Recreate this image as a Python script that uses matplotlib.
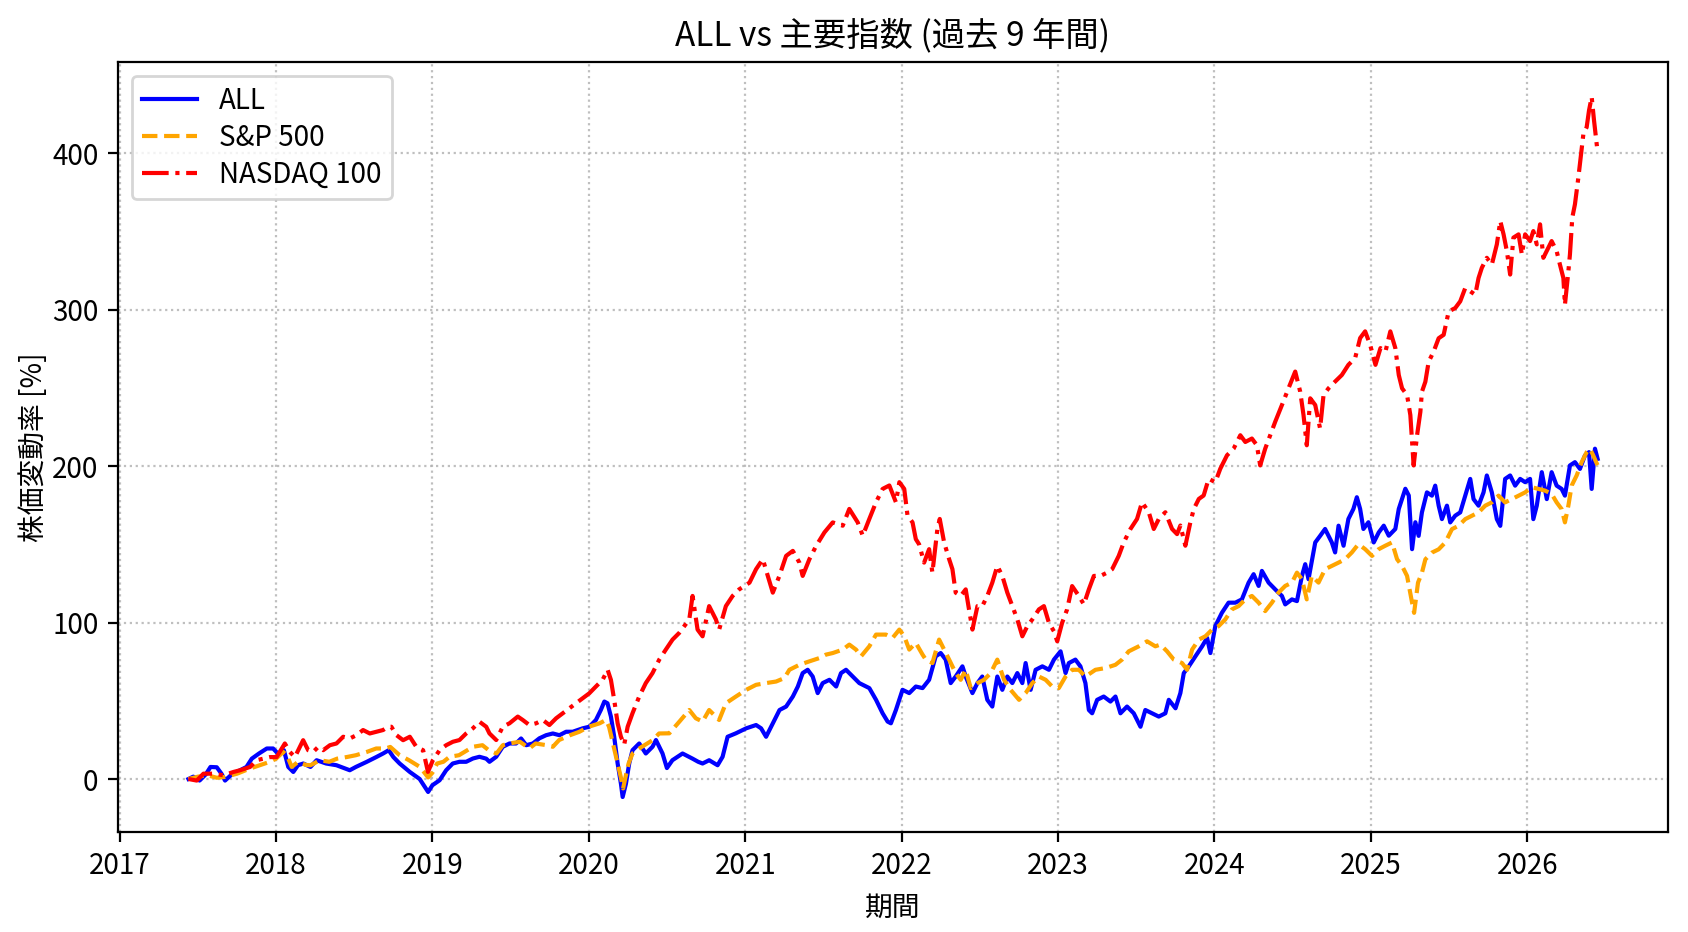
import matplotlib
matplotlib.use("Agg")
import matplotlib.pyplot as plt
import matplotlib.dates as mdates
import pandas as pd

plt.rcParams['font.family'] = ['Noto Sans CJK JP', 'DejaVu Sans']

# ---- data (decimal year, % change) ----
all_year = [2017.439, 2017.47, 2017.51, 2017.55, 2017.58, 2017.62, 2017.65, 2017.673, 2017.71, 2017.748,
            2017.81, 2017.844, 2017.89, 2017.94, 2017.98, 2018.014, 2018.05, 2018.078, 2018.11, 2018.14,
            2018.174, 2018.22, 2018.259, 2018.32, 2018.386, 2018.471, 2018.51, 2018.578, 2018.64, 2018.684,
            2018.72, 2018.75, 2018.79, 2018.855, 2018.918, 2018.972, 2019.0, 2019.046, 2019.088, 2019.13,
            2019.173, 2019.216, 2019.259, 2019.301, 2019.344, 2019.365, 2019.408, 2019.45, 2019.493, 2019.535,
            2019.567, 2019.6, 2019.642, 2019.684, 2019.727, 2019.77, 2019.812, 2019.855, 2019.897, 2019.961,
            2020.004, 2020.046, 2020.078, 2020.1, 2020.12, 2020.142, 2020.163, 2020.185, 2020.206, 2020.217,
            2020.238, 2020.259, 2020.28, 2020.323, 2020.365, 2020.408, 2020.43, 2020.472, 2020.5, 2020.535,
            2020.6, 2020.664, 2020.7, 2020.728, 2020.77, 2020.824, 2020.856, 2020.888, 2020.941, 2021.005,
            2021.068, 2021.1, 2021.132, 2021.175, 2021.218, 2021.26, 2021.303, 2021.335, 2021.366, 2021.398,
            2021.43, 2021.462, 2021.494, 2021.537, 2021.58, 2021.611, 2021.643, 2021.686, 2021.728, 2021.792,
            2021.835, 2021.877, 2021.909, 2021.93, 2021.962, 2022.005, 2022.048, 2022.09, 2022.133, 2022.175,
            2022.217, 2022.249, 2022.281, 2022.313, 2022.345, 2022.388, 2022.409, 2022.452, 2022.484, 2022.515,
            2022.547, 2022.579, 2022.611, 2022.643, 2022.675, 2022.707, 2022.739, 2022.771, 2022.792, 2022.824,
            2022.856, 2022.899, 2022.941, 2022.973, 2023.016, 2023.048, 2023.069, 2023.111, 2023.143, 2023.175,
            2023.197, 2023.218, 2023.25, 2023.292, 2023.335, 2023.367, 2023.399, 2023.441, 2023.484, 2023.527,
            2023.558, 2023.601, 2023.644, 2023.686, 2023.708, 2023.751, 2023.782, 2023.804, 2023.836, 2023.878,
            2023.921, 2023.953, 2023.974, 2024.006, 2024.048, 2024.091, 2024.134, 2024.176, 2024.219, 2024.251,
            2024.283, 2024.304, 2024.347, 2024.389, 2024.432, 2024.453, 2024.496, 2024.528, 2024.56, 2024.581,
            2024.602, 2024.645, 2024.677, 2024.708, 2024.751, 2024.772, 2024.794, 2024.826, 2024.857, 2024.889,
            2024.911, 2024.932, 2024.953, 2024.985, 2025.017, 2025.049, 2025.081, 2025.113, 2025.155, 2025.177,
            2025.198, 2025.219, 2025.241, 2025.262, 2025.283, 2025.304, 2025.325, 2025.357, 2025.389, 2025.41,
            2025.432, 2025.453, 2025.485, 2025.506, 2025.538, 2025.57, 2025.602, 2025.634, 2025.655, 2025.687,
            2025.719, 2025.74, 2025.772, 2025.804, 2025.826, 2025.857, 2025.889, 2025.921, 2025.953, 2025.985,
            2026.017, 2026.038, 2026.06, 2026.092, 2026.124, 2026.155, 2026.187, 2026.219, 2026.24, 2026.272,
            2026.304, 2026.336, 2026.368, 2026.394, 2026.411, 2026.432, 2026.449]
all_pct = [0, 1.5, -1, 3, 7.7, 7.5, 3.4, -1, 2.4, 4.5,
           7.7, 13, 16.3, 19.5, 19.5, 16, 18.4, 7.7, 4.5, 8.8,
           9.9, 7.7, 12, 9.9, 8.8, 5.6, 7.7, 10.9, 14, 16.3,
           18.4, 14, 9.9, 4.5, 0, -8.3, -4, -0.8, 5.6, 9.9,
           11, 11, 13.1, 14.2, 13, 11, 14.2, 20.6, 22.7, 22.7,
           25.9, 21.6, 22.7, 26, 28, 29.1, 28, 30.2, 30.2, 32.4,
           33.4, 37.7, 44.2, 49.5, 48.4, 39.9, 27, 9.9, -3, -11.5,
           -3, 9.9, 18.4, 22.7, 16.3, 20.6, 24.9, 16.3, 7, 12,
           16.3, 13, 11, 9.9, 12, 8.8, 14.2, 27, 29.2, 32.4,
           34.5, 32.4, 27, 35.6, 44.1, 46.3, 52.7, 59.1, 67.7, 69.8,
           65.5, 54.9, 61.3, 63.4, 59.1, 67.7, 69.8, 65.5, 61.3, 58.1,
           50.6, 42, 36.7, 35.6, 44.1, 57, 54.9, 59.1, 58.1, 63.4,
           78.4, 80.5, 76.3, 61.3, 65.5, 72, 65.5, 54.9, 61.3, 65.5,
           50.6, 46.3, 65.5, 57, 65.5, 61.3, 67.7, 61.3, 74.1, 57,
           69.8, 72, 69.8, 76.3, 81.6, 67.7, 74.1, 76.3, 72, 61.3,
           44.1, 42, 50.6, 52.7, 49.5, 52.7, 42, 46.3, 42, 33.4,
           44.1, 42, 39.9, 42, 50.6, 45.2, 54.9, 67.7, 72, 78.4,
           84.8, 90.2, 80.5, 97.7, 106.2, 112.7, 112.7, 114.8, 125.5, 130.9,
           123.4, 133, 125.5, 121.2, 117, 111.6, 114.8, 113.7, 129.8, 137.3,
           127.7, 151.2, 155.5, 159.8, 151.2, 144.8, 161.9, 149.1, 166.2, 172.6,
           180.1, 172.6, 159.8, 164.1, 151.2, 157.6, 161.9, 155.5, 159.8, 172.6,
           179, 185.5, 181.2, 146.9, 164.1, 155.4, 170.4, 183.2, 181.1, 187.5,
           174.7, 166.1, 174.7, 164, 168.3, 170.4, 181.1, 191.8, 178.9, 174.7,
           183.2, 194, 183.2, 166.1, 161.8, 191.8, 194, 187.5, 191.8, 189.7,
           191.8, 166.1, 174.7, 196.1, 178.9, 196.1, 187.5, 185.4, 181.1, 200.4,
           202.5, 198.2, 206.8, 208.9, 185.4, 211.1, 204.6]

sp_year = [2017.439, 2017.5, 2017.56, 2017.62, 2017.67, 2017.75, 2017.83, 2017.9, 2017.96, 2018.0,
           2018.045, 2018.07, 2018.1, 2018.14, 2018.19, 2018.22, 2018.28, 2018.34, 2018.39, 2018.45,
           2018.51, 2018.58, 2018.64, 2018.70, 2018.73, 2018.79, 2018.85, 2018.92, 2018.972, 2019.0,
           2019.03, 2019.07, 2019.11, 2019.17, 2019.26, 2019.32, 2019.36, 2019.41, 2019.45, 2019.49,
           2019.56, 2019.62, 2019.66, 2019.73, 2019.77, 2019.81, 2019.88, 2019.94, 2020.0, 2020.07,
           2020.11, 2020.13, 2020.15, 2020.185, 2020.205, 2020.22, 2020.24, 2020.255, 2020.28, 2020.34,
           2020.41, 2020.45, 2020.515, 2020.58, 2020.643, 2020.685, 2020.728, 2020.77, 2020.834, 2020.877,
           2020.941, 2021.005, 2021.068, 2021.132, 2021.196, 2021.249, 2021.281, 2021.345, 2021.409, 2021.473,
           2021.515, 2021.558, 2021.622, 2021.664, 2021.707, 2021.739, 2021.792, 2021.835, 2021.898, 2021.941,
           2021.984, 2022.016, 2022.048, 2022.09, 2022.133, 2022.154, 2022.196, 2022.239, 2022.271, 2022.303,
           2022.345, 2022.377, 2022.409, 2022.441, 2022.484, 2022.526, 2022.569, 2022.611, 2022.654, 2022.696,
           2022.75, 2022.792, 2022.835, 2022.877, 2022.92, 2022.962, 2023.005, 2023.048, 2023.09, 2023.133,
           2023.175, 2023.239, 2023.303, 2023.367, 2023.409, 2023.452, 2023.516, 2023.569, 2023.622, 2023.654,
           2023.697, 2023.74, 2023.793, 2023.825, 2023.857, 2023.9, 2023.942, 2023.985, 2024.027, 2024.07,
           2024.112, 2024.155, 2024.198, 2024.24, 2024.283, 2024.325, 2024.368, 2024.41, 2024.453, 2024.496,
           2024.528, 2024.56, 2024.591, 2024.623, 2024.666, 2024.708, 2024.751, 2024.794, 2024.836, 2024.879,
           2024.921, 2024.964, 2025.006, 2025.049, 2025.091, 2025.134, 2025.166, 2025.198, 2025.23, 2025.262,
           2025.275, 2025.3, 2025.325, 2025.347, 2025.389, 2025.432, 2025.474, 2025.517, 2025.559, 2025.602,
           2025.645, 2025.687, 2025.73, 2025.772, 2025.815, 2025.857, 2025.9, 2025.943, 2025.985, 2026.028,
           2026.07, 2026.113, 2026.155, 2026.187, 2026.219, 2026.24, 2026.262, 2026.283, 2026.315, 2026.347,
           2026.379, 2026.4, 2026.421, 2026.449]
sp_pct = [0, 1.5, 2.4, 0.8, 1.3, 3.4, 6.6, 9, 11, 13,
          17.3, 15, 7.7, 11, 9, 8.8, 12, 11, 13, 14,
          15.2, 17.3, 19.5, 19.5, 20.5, 15.2, 12, 7.7, 1, 4,
          9.9, 11, 14.2, 15.2, 20.6, 21.6, 18.4, 16.3, 21.6, 22.7,
          23.8, 19.5, 22.7, 21.6, 20.6, 24.9, 28, 30.2, 33.4, 35.6,
          37.7, 33.4, 24.9, 9.9, 1.3, -6, 3.4, 9.9, 16.3, 20.6,
          24.9, 29.1, 29.2, 36.7, 44.1, 38.8, 36.7, 44.1, 37.7, 48.4,
          52.7, 57, 60.2, 61.3, 62.3, 64.5, 69.8, 73, 75.2, 77.3,
          79.5, 80.5, 82.7, 85.9, 82.7, 78.4, 84.8, 92.3, 92.3, 90.2,
          95.5, 91.2, 82.7, 87, 79.5, 76.3, 74.1, 89.1, 82.7, 76.3,
          67.7, 63.4, 69.8, 58.1, 61.3, 63.4, 67.7, 76.3, 63.4, 57,
          50.6, 54.9, 61.3, 65.5, 63.4, 59.1, 58.1, 65.5, 69.8, 69.8,
          65.5, 69.8, 70.9, 73, 76.3, 81.6, 84.8, 88, 84.8, 85.9,
          81.6, 76.3, 74.1, 69.8, 82.7, 89.1, 91.2, 95.5, 97.7, 102,
          108.4, 110.5, 114.8, 117, 112.7, 107.3, 112.7, 119.1, 123.4, 125.5,
          131.9, 127.7, 114.8, 129.8, 125.5, 134.1, 136.2, 138.3, 140.5, 144.8,
          150.1, 146.9, 142.6, 146.9, 149.1, 151.2, 140.5, 136.2, 129.8, 112.7,
          106.2, 125.5, 131.8, 140.4, 144.7, 146.8, 151.1, 159.7, 161.8, 166.1,
          168.3, 170.4, 174.7, 176.8, 181.1, 176.8, 178.9, 181.1, 183.2, 186.5,
          185.4, 184.3, 182.2, 176.8, 172.5, 164, 174.7, 187.5, 194, 202.5,
          208.9, 211.1, 206.8, 200.4]

ndx_year = [2017.439, 2017.492, 2017.535, 2017.599, 2017.663, 2017.727, 2017.769, 2017.833, 2017.875, 2017.918,
            2017.96, 2018.003, 2018.056, 2018.088, 2018.12, 2018.152, 2018.173, 2018.205, 2018.237, 2018.269,
            2018.301, 2018.344, 2018.386, 2018.429, 2018.471, 2018.514, 2018.556, 2018.599, 2018.642, 2018.684,
            2018.716, 2018.737, 2018.77, 2018.812, 2018.855, 2018.897, 2018.94, 2018.971, 2019.003, 2019.046,
            2019.088, 2019.131, 2019.173, 2019.216, 2019.259, 2019.301, 2019.344, 2019.365, 2019.408, 2019.45,
            2019.493, 2019.546, 2019.578, 2019.62, 2019.663, 2019.706, 2019.748, 2019.791, 2019.833, 2019.876,
            2019.918, 2019.961, 2020.004, 2020.046, 2020.089, 2020.121, 2020.142, 2020.163, 2020.185, 2020.206,
            2020.227, 2020.249, 2020.28, 2020.323, 2020.365, 2020.408, 2020.451, 2020.493, 2020.536, 2020.579,
            2020.643, 2020.664, 2020.696, 2020.728, 2020.77, 2020.813, 2020.834, 2020.877, 2020.92, 2020.962,
            2021.026, 2021.068, 2021.111, 2021.143, 2021.175, 2021.217, 2021.26, 2021.303, 2021.345, 2021.366,
            2021.409, 2021.452, 2021.505, 2021.558, 2021.622, 2021.664, 2021.718, 2021.75, 2021.792, 2021.835,
            2021.877, 2021.92, 2021.962, 2021.984, 2022.016, 2022.037, 2022.069, 2022.09, 2022.111, 2022.143,
            2022.175, 2022.196, 2022.228, 2022.243, 2022.271, 2022.303, 2022.324, 2022.345, 2022.377, 2022.409,
            2022.43, 2022.452, 2022.484, 2022.515, 2022.547, 2022.579, 2022.611, 2022.643, 2022.675, 2022.707,
            2022.739, 2022.771, 2022.803, 2022.835, 2022.877, 2022.909, 2022.941, 2022.973, 2022.994, 2023.026,
            2023.058, 2023.09, 2023.133, 2023.165, 2023.197, 2023.229, 2023.271, 2023.314, 2023.346, 2023.388,
            2023.42, 2023.463, 2023.505, 2023.537, 2023.58, 2023.612, 2023.644, 2023.686, 2023.729, 2023.761,
            2023.782, 2023.814, 2023.846, 2023.868, 2023.9, 2023.931, 2023.963, 2024.006, 2024.038, 2024.081,
            2024.123, 2024.166, 2024.198, 2024.24, 2024.272, 2024.293, 2024.325, 2024.357, 2024.389, 2024.432,
            2024.474, 2024.517, 2024.549, 2024.57, 2024.591, 2024.613, 2024.645, 2024.676, 2024.698, 2024.73,
            2024.772, 2024.815, 2024.857, 2024.9, 2024.932, 2024.964, 2024.996, 2025.028, 2025.06, 2025.092,
            2025.123, 2025.155, 2025.177, 2025.198, 2025.23, 2025.251, 2025.272, 2025.294, 2025.315, 2025.325,
            2025.347, 2025.368, 2025.4, 2025.432, 2025.464, 2025.496, 2025.538, 2025.57, 2025.602, 2025.634,
            2025.666, 2025.687, 2025.708, 2025.74, 2025.772, 2025.804, 2025.826, 2025.847, 2025.868, 2025.889,
            2025.91, 2025.943, 2025.964, 2025.985, 2026.017, 2026.038, 2026.06, 2026.081, 2026.102, 2026.134,
            2026.155, 2026.187, 2026.208, 2026.23, 2026.24, 2026.262, 2026.272, 2026.287, 2026.304, 2026.326,
            2026.343, 2026.358, 2026.379, 2026.394, 2026.411, 2026.426, 2026.443, 2026.449]
ndx_pct = [0, -1, 3.4, 3.4, 2.4, 4.5, 5.6, 7.7, 12, 13,
           14, 14, 22.7, 17.3, 14, 20.5, 24.8, 18.4, 17.3, 20.5,
           18.4, 21.6, 22.7, 27, 25.9, 28, 31.3, 29.1, 30.2, 31.3,
           33.4, 33.4, 28, 24.8, 27, 20.5, 18.4, 4.5, 12, 18.4,
           21.6, 23.8, 24.9, 29.1, 32.4, 36.6, 33.4, 29.1, 24.9, 33.4,
           35.6, 39.9, 37.7, 34.5, 35.6, 37.7, 34.5, 38.8, 42, 45.2,
           48.4, 51.6, 54.8, 59.1, 63.4, 69.8, 63.4, 50.6, 35.6, 27,
           22, 33.4, 42, 52.7, 61.3, 67.7, 76.3, 82.7, 89.1, 93.4,
           102, 117, 95.5, 91.2, 110.5, 102, 95.5, 110.5, 117, 121.2,
           125.5, 134.1, 140.5, 129.8, 119.1, 129.8, 142.6, 145.8, 138.3, 129.8,
           140.5, 149, 157.6, 164, 161.9, 172.6, 164, 155.5, 166.2, 176.9,
           185.4, 187.6, 176.9, 189.7, 185.4, 168.3, 164, 153.3, 150, 138.3,
           146.9, 131.9, 159.8, 166.2, 151.2, 140.5, 134.1, 119.1, 117, 121.2,
           108.4, 95.5, 110.5, 110.5, 117, 125.5, 136.2, 129.8, 119.1, 110.5,
           102, 91.2, 97.7, 102, 108.4, 110.5, 99.8, 94.4, 88, 99.8,
           108.4, 123.3, 117, 111.6, 121.2, 129.8, 129.8, 131.9, 134.1, 142.6,
           151.2, 159.8, 166.2, 176.9, 170.5, 159.8, 166.2, 170.5, 159.8, 156.5,
           162, 149.1, 164.1, 172.6, 179, 181.2, 191.9, 189.7, 198.3, 206.9,
           211.1, 219.7, 215.4, 217.6, 213.3, 200.4, 211.1, 219.7, 228.3, 239,
           249.7, 260.4, 247.5, 232.6, 213.3, 243.3, 239, 224, 245.4, 249.7,
           254, 258.2, 264.7, 269, 281.8, 286.1, 277.5, 264.7, 275.4, 273.2,
           286.1, 275.4, 258.2, 249.7, 245.4, 232.6, 200.4, 219.7, 234.6, 247.5,
           253.9, 266.7, 273.2, 281.7, 283.9, 298.8, 301, 305.3, 313.8, 311.7,
           309.5, 320.2, 326.7, 333.1, 328.8, 341.7, 356.6, 348.1, 337.4, 322.4,
           346, 348.1, 335.2, 348.1, 343.8, 350.2, 341.7, 354.5, 333.1, 339.5,
           343.8, 337.4, 328.8, 320.2, 303.1, 324.5, 335.2, 358.8, 367.3, 384.5,
           399.5, 412.3, 416.6, 427.3, 435.9, 420.9, 405.9, 400.5]

series_labels = ["ALL", "S&P 500", "NASDAQ 100"]
title_text = "ALL vs 主要指数 (過去 9 年間)"
x_label = "期間"
y_label = "株価変動率 [%]"


def to_dates(years):
    out = []
    for y in years:
        yi = int(y)
        out.append(pd.Timestamp(yi, 1, 1) + pd.Timedelta(days=(y - yi) * 365.25))
    return out


fig = plt.figure(figsize=(8.44, 4.66), dpi=200)
ax = fig.add_axes([0.0699, 0.1073, 0.9183, 0.8262])

ax.plot(to_dates(all_year), all_pct, color="blue", linestyle="-", linewidth=1.5, label=series_labels[0])
ax.plot(to_dates(sp_year), sp_pct, color="orange", linestyle="--", linewidth=1.5, label=series_labels[1])
ax.plot(to_dates(ndx_year), ndx_pct, color="red", linestyle="-.", linewidth=1.5, label=series_labels[2])

ax.xaxis.set_major_locator(mdates.YearLocator())
ax.xaxis.set_major_formatter(mdates.DateFormatter("%Y"))
ax.grid(True, linestyle=":", color="#b0b0b0", linewidth=0.8, alpha=0.8)

ax.set_title(title_text, fontsize=12)
ax.set_xlabel(x_label, fontsize=10)
ax.set_ylabel(y_label, fontsize=10, labelpad=1)
ax.tick_params(labelsize=10)
ax.legend(loc="upper left", fontsize=10, labelspacing=0.25, borderpad=0.35)

fig.savefig("out.png", dpi=200)
